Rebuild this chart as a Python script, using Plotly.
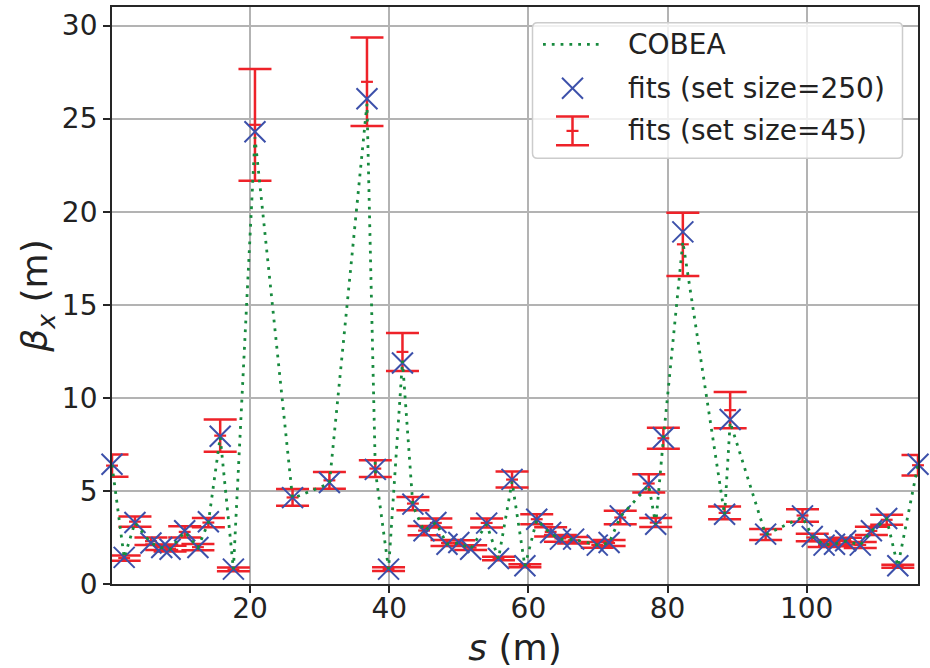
import plotly.graph_objects as go

# ---------------- data ----------------
s_m = [0.15, 1.9, 3.45, 5.75, 7.3, 8.5, 10.6, 12.5, 14.0, 15.7, 17.6, 20.7, 26.1, 31.4,
       36.8, 38.0, 39.9, 41.9, 43.4, 45.0, 46.7, 48.3, 50.0, 51.7, 54.0, 55.7, 57.65,
       59.5, 61.2, 63.2, 64.6, 66.5, 69.9, 71.6, 73.2, 77.3, 78.3, 79.4, 82.2, 88.2,
       89.0, 94.1, 99.4, 100.8, 102.5, 104.0, 105.6, 107.7, 109.3, 111.5, 113.1, 116.0]

beta_cobea = [6.4, 1.4, 3.3, 2.2, 1.95, 1.87, 2.8, 1.95, 3.3, 7.9, 0.8, 24.0, 4.6, 5.4,
              25.8, 6.1, 0.8, 12.0, 4.2, 2.85, 3.3, 2.15, 2.2, 1.9, 3.2, 1.35, 5.5,
              0.95, 3.45, 2.7, 2.4, 2.4, 2.1, 2.2, 3.6, 5.3, 3.2, 7.8, 18.4, 3.7,
              8.7, 2.65, 3.6, 2.55, 2.1, 2.15, 2.3, 2.1, 2.85, 3.5, 0.95, 6.4]

beta_fit250 = [6.43, 1.43, 3.30, 2.20, 1.96, 1.87, 2.86, 1.96, 3.34, 7.94, 0.80, 24.3, 4.64, 5.45,
               26.07, 6.16, 0.80, 11.87, 4.29, 2.86, 3.30, 2.14, 2.23, 1.87, 3.27, 1.37, 5.62,
               0.98, 3.48, 2.77, 2.41, 2.41, 2.09, 2.23, 3.66, 5.36, 3.21, 7.86, 18.92, 3.75,
               8.84, 2.68, 3.66, 2.55, 2.09, 2.14, 2.32, 2.09, 2.86, 3.52, 0.98, 6.43]

beta_fit45 = [6.36, 1.39, 3.35, 2.30, 1.97, 1.90, 2.80, 1.98, 3.30, 7.97, 0.78, 24.67, 4.65, 5.57,
              26.98, 6.20, 0.80, 12.47, 4.32, 2.87, 3.28, 2.20, 2.20, 1.95, 3.28, 1.37, 5.61,
              0.98, 3.48, 2.80, 2.45, 2.35, 2.10, 2.20, 3.57, 5.40, 3.30, 7.83, 18.25, 3.82,
              9.34, 2.66, 3.68, 2.50, 2.15, 2.20, 2.30, 2.10, 2.85, 3.45, 0.95, 6.38]

beta_fit45_err = [0.60, 0.14, 0.28, 0.20, 0.15, 0.15, 0.30, 0.17, 0.25, 0.87, 0.10, 3.00, 0.45, 0.45,
                  2.38, 0.45, 0.10, 1.02, 0.36, 0.25, 0.24, 0.16, 0.15, 0.13, 0.24, 0.10, 0.43,
                  0.08, 0.27, 0.25, 0.18, 0.18, 0.15, 0.16, 0.36, 0.49, 0.24, 0.56, 1.70, 0.34,
                  0.97, 0.29, 0.34, 0.20, 0.16, 0.17, 0.18, 0.16, 0.22, 0.27, 0.08, 0.55]

x_ticks = [20, 40, 60, 80, 100]
y_ticks = [0, 5, 10, 15, 20, 25, 30]
legend_labels = ["COBEA", "fits (set size=250)", "fits (set size=45)"]

# ---------------- styling ----------------
GREEN = "#178a3e"
BLUE = "#3c50aa"
RED = "#ee2229"
FRAME = "#262626"
GRID = "#b3b3b3"
FONT = "DejaVu Sans"

W, H = 930, 668
ML, MR, MT, MB = 112, 12, 7, 83.5
PW, PH = W - ML - MR, H - MT - MB


def px(xp):
    return (xp - ML) / PW


def py(yp):
    return (H - MB - yp) / PH


fig = go.Figure()

fig.add_trace(go.Scatter(
    x=s_m, y=beta_fit45, mode="markers", name=legend_labels[2], showlegend=False,
    cliponaxis=False,
    marker=dict(symbol="line-ew", size=8.5, color=RED, line=dict(width=2.2, color=RED)),
    error_y=dict(type="data", array=beta_fit45_err, visible=True, color=RED,
                 thickness=2.5, width=16.5),
))

fig.add_trace(go.Scatter(
    x=s_m, y=beta_fit250, mode="markers", name=legend_labels[1], showlegend=False,
    cliponaxis=False,
    marker=dict(symbol="x-thin", size=21, color=BLUE, line=dict(width=2, color=BLUE)),
))

fig.add_trace(go.Scatter(
    x=s_m, y=beta_cobea, mode="lines", name=legend_labels[0], showlegend=False,
    line=dict(color=GREEN, width=2.8, dash="2.8px,6px"),
))

axis_common = dict(
    showgrid=True, gridcolor=GRID, gridwidth=1.5,
    showline=True, mirror=True, linecolor=FRAME, linewidth=1.8,
    ticks="outside", ticklen=7, tickwidth=1.5, tickcolor=FRAME,
    tickfont=dict(size=28, color="#222222", family=FONT),
    zeroline=False,
)

fig.update_xaxes(range=[s_m[0], s_m[-1]], tickmode="array", tickvals=x_ticks,
                 ticklabelstandoff=-9,
                 title=dict(text="<i>s</i> (m)", font=dict(size=36, color="#222222", family=FONT),
                            standoff=17),
                 **axis_common)
fig.update_yaxes(range=[0, 31], tickmode="array", tickvals=y_ticks,
                 title=dict(text="<i>β</i><sub><i>x</i></sub> (m)",
                            font=dict(size=36, color="#222222", family=FONT), standoff=3),
                 **axis_common)

# ---------------- manual legend (matplotlib style) ----------------
bx0, bx1, by0, by1 = 532.5, 902.5, 22.7, 158.3
r = 5
rx, ry = r / PW, r / PH
X0, X1, Y0, Y1 = px(bx0), px(bx1), py(by1), py(by0)
path = (f"M {X0+rx},{Y1} L {X1-rx},{Y1} Q {X1},{Y1} {X1},{Y1-ry} "
        f"L {X1},{Y0+ry} Q {X1},{Y0} {X1-rx},{Y0} L {X0+rx},{Y0} "
        f"Q {X0},{Y0} {X0},{Y0+ry} L {X0},{Y1-ry} Q {X0},{Y1} {X0+rx},{Y1} Z")
shapes = [dict(type="path", xref="paper", yref="paper", path=path,
               fillcolor="rgba(255,255,255,0.8)", line=dict(color="#cccccc", width=1.5),
               layer="above")]

row_y = [44.5, 88.3, 131.0]

# COBEA dotted sample
shapes.append(dict(type="line", xref="paper", yref="paper",
                   x0=px(543), x1=px(602), y0=py(row_y[0]), y1=py(row_y[0]),
                   line=dict(color=GREEN, width=2.8, dash="2.8px,6px")))
# X sample
cx, cy, hs = 572.5, row_y[1], 10.5
shapes.append(dict(type="line", xref="paper", yref="paper",
                   x0=px(cx - hs), x1=px(cx + hs), y0=py(cy - hs), y1=py(cy + hs),
                   line=dict(color=BLUE, width=2)))
shapes.append(dict(type="line", xref="paper", yref="paper",
                   x0=px(cx - hs), x1=px(cx + hs), y0=py(cy + hs), y1=py(cy - hs),
                   line=dict(color=BLUE, width=2)))
# error bar sample
ex, et, eb, ew = 572.5, 116.7, 145.3, 16.5
shapes.append(dict(type="line", xref="paper", yref="paper",
                   x0=px(ex), x1=px(ex), y0=py(et), y1=py(eb),
                   line=dict(color=RED, width=2.5)))
for yy in (et, eb):
    shapes.append(dict(type="line", xref="paper", yref="paper",
                       x0=px(ex - ew), x1=px(ex + ew), y0=py(yy), y1=py(yy),
                       line=dict(color=RED, width=2.5)))
shapes.append(dict(type="line", xref="paper", yref="paper",
                   x0=px(ex - 6), x1=px(ex + 6), y0=py(row_y[2]), y1=py(row_y[2]),
                   line=dict(color=RED, width=2.2)))

annotations = []
for lab, yy in zip(legend_labels, row_y):
    annotations.append(dict(text=lab, xref="paper", yref="paper", x=px(626), y=py(yy),
                            xanchor="left", yanchor="middle", showarrow=False,
                            font=dict(size=28, color="#222222", family=FONT)))

fig.update_layout(
    width=W, height=H,
    margin=dict(l=ML, r=MR, t=MT, b=MB, autoexpand=False),
    paper_bgcolor="white", plot_bgcolor="white",
    font=dict(family=FONT, color="#222222"),
    shapes=shapes, annotations=annotations,
    showlegend=False,
)

fig.write_html("out.html", config={"displayModeBar": False},
               post_script="document.body.style.margin='0px';document.body.style.overflow='hidden';")
